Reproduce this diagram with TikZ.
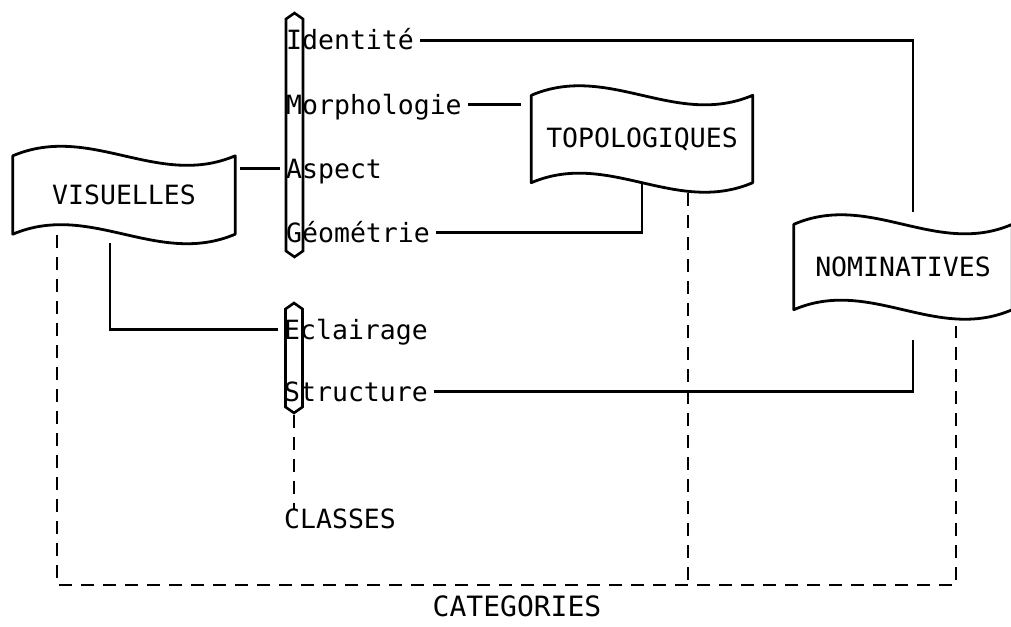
\documentclass[tikz,border=0pt]{standalone}
\usepackage{fontspec}
\setmonofont{DejaVu Sans Mono}
\usepackage{tikz}
\usetikzlibrary{calc,shapes.symbols}

% wavy outline round a banner node
\newcommand{\flagframe}[1]{%
  \draw[frame] (#1.south west) -- (#1.north west)
    .. controls ($(#1.north west)!0.35!(#1.north east)+(0,-33)$) and ($(#1.north west)!0.65!(#1.north east)+(0,33)$) .. (#1.north east)
    -- (#1.south east)
    .. controls ($(#1.south west)!0.65!(#1.south east)+(0,33)$) and ($(#1.south west)!0.35!(#1.south east)+(0,-33)$) .. cycle;}

\begin{document}
\begin{tikzpicture}[
    x=1pt, y=-1pt,
    font=\ttfamily\fontsize{26.5}{30}\selectfont,
    banner/.style={inner sep=0pt},
    frame/.style={line width=2.8pt, line join=round},
    pill/.style={draw, line width=2.6pt, signal, signal to=north and south, signal pointer angle=110, minimum width=17pt, inner sep=0pt},
    lbl/.style={anchor=base west, inner xsep=6pt, inner ysep=0pt, text height=19pt, text depth=0pt},
    link/.style={line width=2.8pt},
    dashlink/.style={line width=2.8pt, dash pattern=on 13pt off 9pt},
]
\useasboundingbox (0,0) rectangle (1011,626);

\node[banner, minimum width=222pt, minimum height=78pt] (visu) at (124,195) {VISUELLES};
\node[banner, minimum width=221pt, minimum height=87pt] (topo) at (642,139) {TOPOLOGIQUES};
\node[banner, minimum width=218pt, minimum height=85pt] (nomi) at (903,267) {NOMINATIVES};
\flagframe{visu}
\flagframe{topo}
\flagframe{nomi}

\node[pill, minimum height=232pt] (pilla) at (294.5,135) {};
\node[pill, minimum height=98pt] (pillb) at (294,358) {};

\node[lbl] (ident) at (280,50) {Identité};
\node[lbl] (morpho) at (280,114) {Morphologie};
\node[lbl] (aspect) at (280,178) {Aspect};
\node[lbl] (geom) at (280,242) {Géométrie};
\node[lbl] (eclair) at (278,339) {Eclairage};
\node[lbl] (struct) at (278,401) {Structure};
\node[lbl] (classes) at (278,528) {CLASSES};
\node[lbl, anchor=base, font=\ttfamily\fontsize{28}{32}\selectfont] (categ) at (517,616) {CATEGORIES};

\coordinate (nomitop) at (913,212);
\coordinate (nomifoot) at (913,340);
\coordinate (topofoot) at (642,183);
\coordinate (visufoot) at (110,243);
\coordinate (visuleg) at (57,235);
\coordinate (topoleg) at (688,193);
\coordinate (nomileg) at (956,326);
\coordinate (catleft) at (57,585);
\coordinate (catright) at (956,585);

\draw[link] (ident.east) -| (nomitop);
\draw[link, shorten >=10pt] (morpho.east) -- (morpho.east -| topo.west);
\draw[link, shorten <=5pt] (aspect.west -| visu.east) -- (aspect.west);
\draw[link] (geom.east) -| (topofoot);
\draw[link] (visufoot) |- (eclair.west);
\draw[link] (struct.east) -| (nomifoot);

\draw[dashlink] (visuleg) -- (catleft) -- (catright) -- (nomileg);
\draw[dashlink] (topoleg) -- (topoleg |- catleft);
\draw[dashlink] (pillb.south) -- (pillb.south |- classes.north);
\end{tikzpicture}
\end{document}
